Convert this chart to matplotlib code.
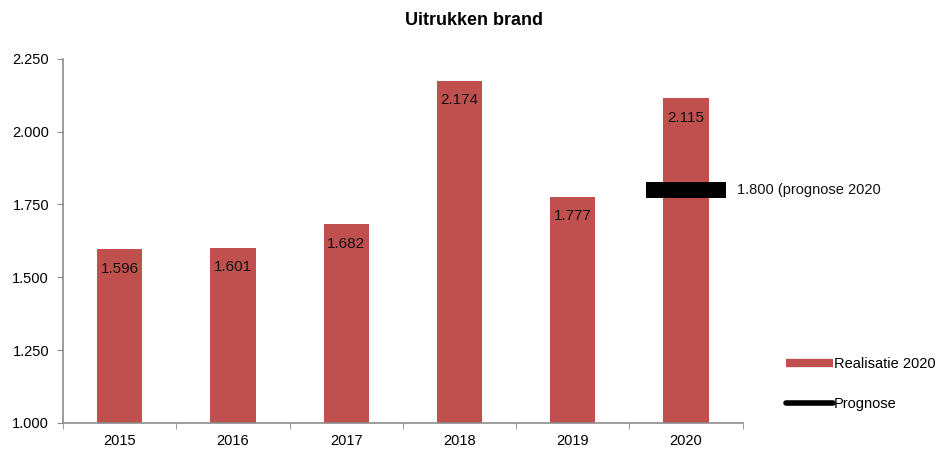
import matplotlib
matplotlib.use("Agg")
import matplotlib.pyplot as plt
from matplotlib.lines import Line2D
from matplotlib.ticker import FuncFormatter, FixedLocator

plt.rcParams['font.family'] = ['Liberation Sans', 'DejaVu Sans']

years = ['2015', '2016', '2017', '2018', '2019', '2020']
realisatie = [1596, 1601, 1682, 2174, 1777, 2115]
prognose_year = '2020'
prognose = 1800

bar_color = '#C0504D'
axis_color = '#8C8C8C'


def nl(v):
    # thousands with a dot, Dutch style
    return f"{int(round(v)):,}".replace(',', '.')


fig = plt.figure(figsize=(9.39, 4.49), dpi=100)
ax = fig.add_axes([0.067, 0.058, 0.724, 0.811])

x = list(range(len(years)))
ax.bar(x, [v - 1000 for v in realisatie], bottom=1000, width=0.4,
       color=bar_color, zorder=2)

for xi, v in zip(x, realisatie):
    ax.annotate(nl(v), (xi, v), xytext=(0, -14), textcoords='offset points',
                ha='center', va='center', fontsize=11, color='#111111', zorder=3)

px = years.index(prognose_year)
ax.plot([px], [prognose], marker='_', ms=57, mew=11.5, color='black',
        linestyle='none', zorder=4)
ax.annotate(f"{nl(prognose)} (prognose {prognose_year}", (px, prognose),
            xytext=(37, 0), textcoords='offset points', ha='left', va='center',
            fontsize=10.5, color='#111111')

ax.set_xlim(-0.5, len(years) - 0.5)
ax.set_ylim(1000, 2250)
ax.set_yticks([1000, 1250, 1500, 1750, 2000, 2250])
ax.yaxis.set_major_formatter(FuncFormatter(lambda v, p: nl(v)))

ax.set_xticks(x)
ax.set_xticklabels(years)
ax.xaxis.set_minor_locator(FixedLocator([i - 0.5 for i in range(len(years) + 1)]))
ax.tick_params(axis='x', which='major', length=0, pad=8, labelsize=10.5)
ax.tick_params(axis='x', which='minor', length=4, color=axis_color, direction='out')
ax.tick_params(axis='y', length=4, color=axis_color, direction='out', labelsize=10.5, pad=6)

for s in ['top', 'right']:
    ax.spines[s].set_visible(False)
for s in ['left', 'bottom']:
    ax.spines[s].set_color(axis_color)
    ax.spines[s].set_linewidth(1.2)

fig.text(0.505, 0.954, 'Uitrukken brand', ha='center', va='center',
         fontsize=13, fontweight='bold')

handles = [Line2D([0], [0], color=bar_color, lw=6, solid_capstyle='butt'),
           Line2D([0], [0], color='black', lw=4, solid_capstyle='round')]
fig.legend(handles, ['Realisatie 2020', 'Prognose'], loc='center left',
           bbox_to_anchor=(0.823, 0.145), frameon=False, fontsize=10.5,
           handlelength=3.2, handletextpad=0.1, labelspacing=1.8)

fig.savefig('out.png', dpi=100)
